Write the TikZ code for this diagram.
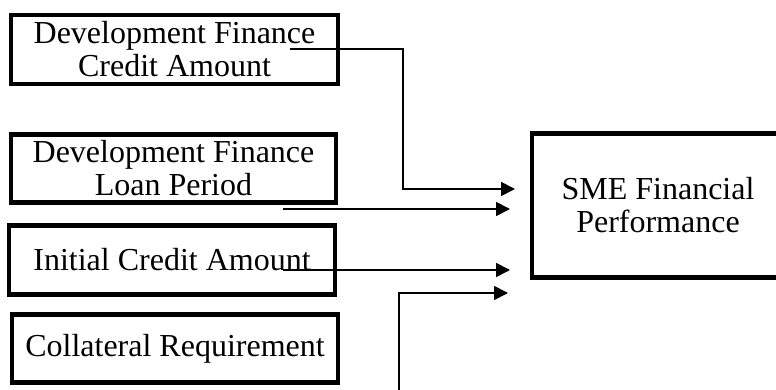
\documentclass[tikz,border=0pt]{standalone}
\usepackage{fontspec}
\setmainfont{Liberation Serif}
\usetikzlibrary{arrows.meta}

\begin{document}
\begin{tikzpicture}[x=1pt, y=-1pt,
    factor/.style={draw, line width=4.5pt, align=center, inner sep=0pt,
        font=\fontsize{32}{33}\selectfont},
    link/.style={line width=1.7pt, -{Triangle[length=14pt, width=14pt]}}]
    \useasboundingbox (0, 0) rectangle (776, 390);
    \clip (0, 0) rectangle (776, 390);
    % input factors
    \node[factor, minimum width=327pt, minimum height=69pt] (dfca) at (174.5, 49.5)
        {Development Finance\\Credit Amount};
    \node[factor, minimum width=325pt, minimum height=68pt] (dflp) at (173.5, 168.5)
        {Development Finance\\Loan Period};
    \node[factor, minimum width=326pt, minimum height=69pt] (ica) at (172, 260)
        {Initial Credit Amount};
    \node[factor, minimum width=326pt, minimum height=68pt] (colreq) at (175, 348.5)
        {Collateral Requirement};
    % outcome
    \node[factor, minimum width=252pt, minimum height=144pt] (sme) at (658, 205.5)
        {SME Financial\\Performance};
    % connector ends
    \coordinate (s1) at (290, 49);
    \coordinate (k1) at (403, 189);
    \coordinate (e1) at (515, 189);
    \coordinate (s2) at (283, 209);
    \coordinate (e2) at (510, 209);
    \coordinate (s3) at (283, 270);
    \coordinate (e3) at (510, 270);
    \coordinate (s4) at (399, 395);
    \coordinate (e4) at (508, 293);
    \draw[link] (s1) -| (k1) -- (e1);
    \draw[link] (s2) -- (e2);
    \draw[link] (s3) -- (e3);
    \draw[link] (s4) |- (e4);
\end{tikzpicture}
\end{document}
